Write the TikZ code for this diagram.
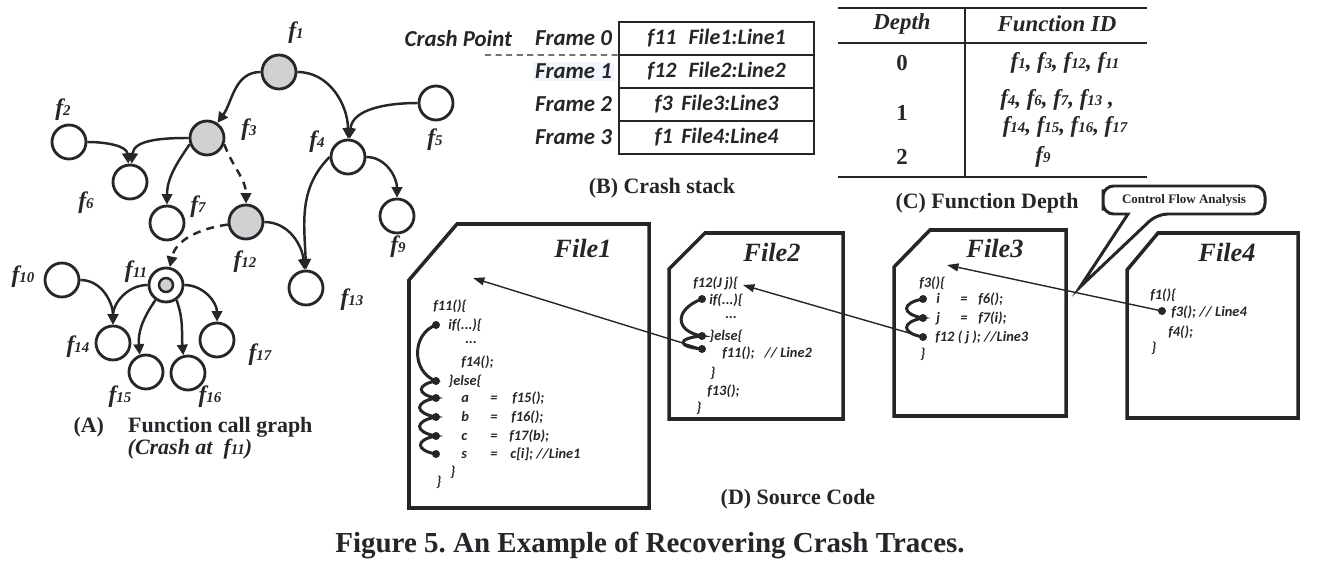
\documentclass[tikz,border=0pt]{standalone}
\usepackage{fontspec}
\setmainfont{Liberation Serif}
\newfontfamily\codefont{Carlito}
\usetikzlibrary{positioning, calc, arrows.meta}
\definecolor{inkgray}{RGB}{38, 38, 42}
\definecolor{nodegray}{RGB}{208, 209, 211}
\definecolor{framehl}{RGB}{240, 246, 252}
\newcommand{\fid}[1]{f{\fontsize{8.5}{9}\selectfont #1}}
\frenchspacing

\begin{document}
\begin{tikzpicture}[
			x=0.02cm, y=0.02cm,
			gnode/.style={circle, draw=inkgray, fill=white, line width=1.6pt, minimum size=0.68cm, inner sep=0pt},
			hotnode/.style={gnode, fill=nodegray},
			corenode/.style={circle, draw=inkgray, fill=nodegray, line width=1.4pt, minimum size=0.28cm, inner sep=0pt},
			flabel/.style={font=\fontsize{13.5}{13}\selectfont\bfseries\itshape, text=inkgray, inner sep=0pt},
			call/.style={-{Triangle[length=6pt, width=6pt]}, line width=1.4pt, draw=inkgray},
			maycall/.style={call, dash pattern=on 4.5pt off 3.5pt},
			caption/.style={font=\fontsize{12.5}{14}\selectfont\bfseries, text=inkgray},
			framelabel/.style={font=\codefont\fontsize{13}{13}\selectfont\bfseries\itshape, text=inkgray, inner sep=1pt},
			stackrow/.style={draw=inkgray, line width=1.2pt, minimum width=3.9cm, minimum height=0.66cm, outer sep=0pt, font=\codefont\fontsize{12.5}{13}\selectfont\bfseries\itshape, text=inkgray},
			tabhead/.style={font=\fontsize{13}{13}\selectfont\bfseries\itshape, text=inkgray},
			tabcell/.style={font=\fontsize{13}{13}\selectfont\bfseries, text=inkgray},
			tabline/.style={line width=1.2pt, draw=inkgray},
			filebox/.style={line width=2pt, draw=inkgray},
			filetitle/.style={font=\fontsize{15}{15}\selectfont\bfseries\itshape, text=inkgray},
			codeline/.style={anchor=west, inner sep=0pt, font=\codefont\fontsize{8.2}{9}\selectfont\bfseries\itshape, text=inkgray},
			codedot/.style={circle, fill=inkgray, inner sep=0pt, minimum size=0.16cm},
			flow/.style={line width=1.7pt, draw=inkgray, line cap=round},
			trace/.style={-{Triangle[length=6.5pt, width=4.5pt]}, line width=0.8pt, draw=inkgray},
			callout/.style={line width=1.7pt, draw=inkgray, fill=white}
		]
		\useasboundingbox (0,0) rectangle (1342,576);

		% (A) function call graph
		\node (f1) [hotnode] at (279,504) {};
		\node (f3) [hotnode] at (207,438) {};
		\node (f2) [gnode] at (69,434) {};
		\node (f6) [gnode] at (130,394) {};
		\node (f7) [gnode] at (167,353) {};
		\node (f12) [hotnode] at (246,354) {};
		\node (f4) [gnode] at (348,419) {};
		\node (f5) [gnode] at (436,473) {};
		\node (f9) [gnode] at (397,360) {};
		\node (f13) [gnode] at (306,288) {};
		\node (f11) [gnode] at (166,291) {};
		\node (f11core) [corenode] at (f11.center) {};
		\node (f10) [gnode] at (62,296) {};
		\node (f14) [gnode] at (113,233) {};
		\node (f15) [gnode] at (146,204) {};
		\node (f16) [gnode] at (188,203) {};
		\node (f17) [gnode] at (217,236) {};

		\node (l1) [flabel] at (296,543) {\fid{1}};
		\node (l2) [flabel] at (63,466) {\fid{2}};
		\node (l3) [flabel] at (249,446) {\fid{3}};
		\node (l4) [flabel] at (317,434) {\fid{4}};
		\node (l5) [flabel] at (435,436) {\fid{5}};
		\node (l6) [flabel] at (86,373) {\fid{6}};
		\node (l7) [flabel] at (198,369) {\fid{7}};
		\node (l9) [flabel] at (398,329) {\fid{9}};
		\node (l10) [flabel] at (23,299) {\fid{10}};
		\node (l11) [flabel] at (136,304) {\fid{11}};
		\node (l12) [flabel] at (245,314) {\fid{12}};
		\node (l13) [flabel] at (352,276) {\fid{13}};
		\node (l14) [flabel] at (78,229) {\fid{14}};
		\node (l15) [flabel] at (120,179) {\fid{15}};
		\node (l16) [flabel] at (210,179) {\fid{16}};
		\node (l17) [flabel] at (260,221) {\fid{17}};

		\draw[call] (f1) to[out=180, in=55] (f3);
		\draw[call] (f1) to[out=0, in=90] (f4);
		\draw[call] (f5) to[out=180, in=85] (f4);
		\draw[call] (f3) to[out=180, in=85] (f6);
		\draw[call] (f2) to[out=0, in=95] (f6);
		\draw[call] (f3.200) to[out=235, in=90] (f7.north);
		\draw[maycall] (f3.-20) to[out=-70, in=90] (f12.north);
		\draw[maycall] (f12) to[out=188, in=78] (f11);
		\draw[call] (f12) to[out=0, in=95] (f13);
		\draw[call] (f4.west) to[out=225, in=92] (f13.north);
		\draw[call] (f4) to[out=0, in=90] (f9);
		\draw[call] (f10) to[out=0, in=90] (f14);
		\draw[call] (f11) to[out=180, in=90] (f14);
		\draw[call] (f11.235) to[out=235, in=95] (f15.110);
		\draw[call] (f11.-55) to[out=-70, in=95] (f16.105);
		\draw[call] (f11) to[out=0, in=90] (f17);

		\node (capA) [caption] at (193,149) {(A)\hspace{1.1em}Function call graph};
		\node (capA2) [caption, font=\fontsize{12.5}{14}\selectfont\bfseries\itshape] at (190,127) {(Crash at~ \fid{11})};

		% (B) crash stack
		\node (row0) [stackrow] at (716.5,537.5) {f11\hspace{0.55em}File1:Line1};
		\node (row1) [stackrow, below=0pt of row0] {f12\hspace{0.55em}File2:Line2};
		\node (row2) [stackrow, below=0pt of row1] {f3\hspace{0.4em}File3:Line3};
		\node (row3) [stackrow, below=0pt of row2] {f1\hspace{0.4em}File4:Line4};

		\node (fr0) [framelabel, left=0.1cm of row0] {Frame 0};
		\node (fr1) [framelabel, fill=framehl, left=0.1cm of row1] {Frame 1};
		\node (fr2) [framelabel, left=0.1cm of row2] {Frame 2};
		\node (fr3) [framelabel, left=0.1cm of row3] {Frame 3};
		\node (crashpt) [framelabel, left=0.38cm of fr0] {Crash Point};
		\coordinate (cpdash) at (485,521);
		\draw[draw=inkgray, line width=0.8pt, dash pattern=on 3.5pt off 2.5pt] (cpdash) -- (row0.south west);

		\node (capB) [caption] at (662,388) {(B) Crash stack};

		% (C) function depth
		\draw[tabline] (838,568) -- (1147,568);
		\draw[tabline] (838,533) -- (1147,533);
		\draw[tabline] (838,399) -- (1147,399);
		\draw[tabline] (965,568) -- (965,399);
		\node (hdepth) [tabhead] at (902,552) {Depth};
		\node (hfunc) [tabhead] at (1057,552) {Function ID};
		\node (d0) [tabcell] at (902,513) {0};
		\node (d1) [tabcell] at (902,463) {1};
		\node (d2) [tabcell] at (902,419) {2};
		\node (ids0) [tabhead] at (1065,513) {\fid{1}, \fid{3}, \fid{12}, \fid{11}};
		\node (ids1a) [tabhead] at (1057,476) {\fid{4}, \fid{6}, \fid{7}, \fid{13} ,};
		\node (ids1b) [tabhead] at (1065,449) {\fid{14}, \fid{15}, \fid{16}, \fid{17}};
		\node (ids2) [tabhead] at (1043,419) {\fid{9}};

		\node (capC) [caption] at (987,373) {(C) Function Depth};

		% callout
		\draw[callout] (1103,376) [rounded corners=6] |- (1265,390) |- (1157,362) [sharp corners] -- (1080,289) -- (1128,362) [rounded corners=6] -| (1103,376) -- cycle;
		\node (cfa) [font=\fontsize{7.4}{8}\selectfont\bfseries, text=inkgray] at (1184,376) {Control Flow Analysis};

		% (D) source code
		\draw[filebox] (457,352) -- (649,352) -- (649,68) -- (409,68) -- (409,296) -- cycle;
		\node (file1) [filetitle] at (583,328) {File1};
		\node (s1a) [codeline] at (433,270) {f11()\{};
		\node (s1b) [codeline] at (448,251) {if(...)\{};
		\node (s1c) [codeline] at (465,233) {...};
		\node (s1d) [codeline] at (461,214) {f14();};
		\node (s1e) [codeline] at (448,195) {\}else\{};
		\node (s1f) [codeline] at (461,178) {\makebox[0.58cm][l]{a}\makebox[0.44cm][l]{=}f15();};
		\node (s1g) [codeline] at (461,159) {\makebox[0.58cm][l]{b}\makebox[0.42cm][l]{=}f16();};
		\node (s1h) [codeline] at (461,140) {\makebox[0.58cm][l]{c}\makebox[0.38cm][l]{=}f17(b);};
		\node (s1i) [codeline] at (461,122) {\makebox[0.58cm][l]{s}\makebox[0.40cm][l]{=}c[i]; //Line1};
		\node (s1j) [codeline] at (450,104) {\}};
		\node (s1k) [codeline] at (436,94) {\}};
		\node (d1a) [codedot] at (436,251) {};
		\node (d1b) [codedot] at (436,195) {};
		\node (d1c) [codedot] at (436,178) {};
		\node (d1d) [codedot] at (436,159) {};
		\node (d1e) [codedot] at (436,140) {};
		\node (d1f) [codedot] at (436,122) {};
		\draw[flow] (d1a.center) to[out=200, in=160, looseness=1.2] (d1b.center)
			to[out=190, in=170, looseness=3] (d1c.center)
			to[out=190, in=170, looseness=3] (d1d.center)
			to[out=190, in=170, looseness=3] (d1e.center)
			to[out=190, in=170, looseness=3] (d1f.center);

		\draw[filebox] (705,343) -- (843,343) -- (843,157) -- (669,157) -- (669,307) -- cycle;
		\node (file2) [filetitle] at (772,324) {File2};
		\node (s2a) [codeline] at (693,293) {f12(J j)\{};
		\node (s2b) [codeline] at (709,276) {if(...)\{};
		\node (s2c) [codeline] at (725,258) {...};
		\node (s2d) [codeline] at (709,240) {\}else\{};
		\node (s2e) [codeline] at (722,223) {f11();\hspace{0.7em}// Line2};
		\node (s2f) [codeline] at (710,203) {\}};
		\node (s2g) [codeline] at (707,185) {f13();};
		\node (s2h) [codeline] at (696,168) {\}};
		\node (d2a) [codedot] at (702,277) {};
		\node (d2b) [codedot] at (702,240) {};
		\node (d2c) [codedot] at (702,227) {};
		\draw[flow] (d2a.center) to[out=200, in=170, looseness=2] (d2b.center)
			to[out=185, in=175, looseness=5] (d2c.center);

		\draw[filebox] (930,346) -- (1066,346) -- (1066,160) -- (894,160) -- (894,309) -- cycle;
		\node (file3) [filetitle] at (995,328) {File3};
		\node (s3a) [codeline] at (919,293) {f3()\{};
		\node (s3b) [codeline] at (936,277) {\makebox[0.48cm][l]{i}\makebox[0.36cm][l]{=}f6();};
		\node (s3c) [codeline] at (936,258) {\makebox[0.48cm][l]{j}\makebox[0.36cm][l]{=}f7(i);};
		\node (s3d) [codeline] at (935,239) {f12 ( j ); //Line3};
		\node (s3e) [codeline] at (920,222) {\}};
		\node (d3a) [codedot] at (923,277) {};
		\node (d3b) [codedot] at (923,258) {};
		\node (d3c) [codedot] at (923,239) {};
		\draw[flow] (d3a.center) to[out=190, in=170, looseness=3] (d3b.center)
			to[out=190, in=170, looseness=3] (d3c.center);

		\draw[filebox] (1158,343) -- (1298,343) -- (1298,158) -- (1127,158) -- (1127,306) -- cycle;
		\node (file4) [filetitle] at (1227,324) {File4};
		\node (s4a) [codeline] at (1150,281) {f1()\{};
		\node (s4b) [codeline] at (1171,264) {f3(); // Line4};
		\node (s4c) [codeline] at (1168,244) {f4();};
		\node (s4d) [codeline] at (1151,228) {\}};
		\node (d4a) [codedot] at (1162,265) {};

		\coordinate (t3) at (947,311);
		\coordinate (t2) at (743,291);
		\coordinate (t1) at (473,298);
		\draw[trace] (d4a.center) -- (t3);
		\draw[trace] (d3c.center) -- (t2);
		\draw[trace] (d2c.center) -- (t1);

		\node (capD) [caption] at (798,77) {(D) Source Code};
		\node (fig) [caption, font=\fontsize{16.5}{18}\selectfont\bfseries] at (650,31) {Figure 5. An Example of Recovering Crash Traces.};

	\end{tikzpicture}
\end{document}
